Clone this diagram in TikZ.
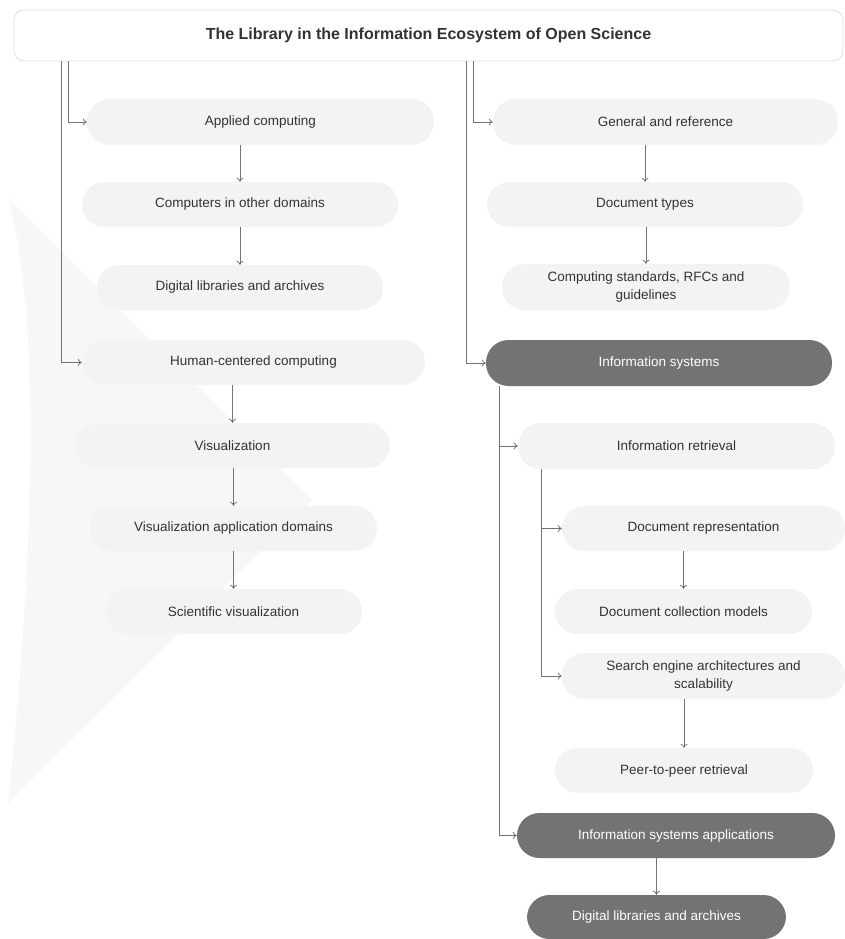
\documentclass[tikz,border=0pt]{standalone}
\usepackage{fontspec}
\setmainfont{Liberation Sans}
\usetikzlibrary{arrows.meta}
\definecolor{boxfill}{HTML}{F3F3F3}
\definecolor{darkfill}{HTML}{737373}
\definecolor{txt}{HTML}{333333}
\definecolor{linec}{HTML}{727272}
\definecolor{wm}{HTML}{F7F7F7}
\definecolor{tborder}{HTML}{E0E0E0}
\begin{document}
\begin{tikzpicture}[x=1pt,y=-1pt,
  lbox/.style={rectangle, rounded corners=22.5pt, fill=boxfill, text=txt,
    font=\fontsize{13.5}{18}\selectfont, align=center, inner sep=0pt},
  dbox/.style={lbox, fill=darkfill, text=white},
  titlebox/.style={rectangle, rounded corners=10pt, fill=white, draw=tborder,
    line width=0.8pt, text=txt, font=\bfseries\fontsize{16}{19}\selectfont, inner sep=0pt},
  conn/.style={draw=linec, line width=0.8pt, -{To[length=4pt,width=7pt]}}
]
\useasboundingbox (0,0) rectangle (845,939);
% watermark
\fill[wm] (8,198) .. controls (45,330) and (30,600) .. (8,803) -- (312,500) -- cycle;

\node[titlebox, minimum width=829pt, minimum height=51pt] (title) at (428.5,35.5) {The Library in the Information Ecosystem of Open Science};

% left column
\node[lbox, minimum width=347pt, minimum height=46pt] (ac) at (260.5,122) {Applied computing};
\node[lbox, minimum width=316pt, minimum height=45pt] (cd) at (240,204.5) {Computers in other domains};
\node[lbox, minimum width=286pt, minimum height=45pt] (dla) at (240,287.5) {Digital libraries and archives};
\node[lbox, minimum width=343pt, minimum height=45pt] (hc) at (253.5,362.5) {Human-centered computing};
\node[lbox, minimum width=315pt, minimum height=45pt] (vis) at (232.5,445.5) {Visualization};
\node[lbox, minimum width=287pt, minimum height=45pt] (vad) at (233.5,528.5) {Visualization application domains};
\node[lbox, minimum width=257pt, minimum height=45pt] (sv) at (233.5,611.5) {Scientific visualization};

% right column
\node[lbox, minimum width=345pt, minimum height=46pt] (gr) at (665.5,122) {General and reference};
\node[lbox, minimum width=316pt, minimum height=45pt] (dt) at (645,204.5) {Document types};
\node[lbox, minimum width=288pt, minimum height=46pt] (cs) at (646,287) {Computing standards, RFCs and\\guidelines};
\node[dbox, minimum width=346pt, minimum height=46pt] (is) at (659,363) {Information systems};
\node[lbox, minimum width=317pt, minimum height=46pt] (ir) at (676.5,446) {Information retrieval};
\node[lbox, minimum width=283pt, minimum height=45pt] (dr) at (703.5,528.5) {Document representation};
\node[lbox, minimum width=257pt, minimum height=45pt] (dc) at (683.5,611.5) {Document collection models};
\node[lbox, minimum width=283pt, minimum height=46pt] (se) at (703.5,676) {Search engine architectures and\\scalability};
\node[lbox, minimum width=258pt, minimum height=45pt] (pp) at (684,770.5) {Peer-to-peer retrieval};
\node[dbox, minimum width=318pt, minimum height=45pt] (isa) at (676,835.5) {Information systems applications};
\node[dbox, minimum width=259pt, minimum height=44pt] (dlb) at (656.5,917) {Digital libraries and archives};

% elbow connectors
\draw[conn] ([xshift=48pt]title.south west) |- (hc.west);
\draw[conn] ([xshift=55pt]title.south west) |- (ac.west);
\draw[conn] ([xshift=453pt]title.south west) |- (is.west);
\draw[conn] ([xshift=460pt]title.south west) |- (gr.west);
\draw[conn] ([xshift=14pt]is.south west) |- (ir.west);
\draw[conn] ([xshift=14pt]is.south west) |- (isa.west);
\draw[conn] ([xshift=24pt]ir.south west) |- (dr.west);
\draw[conn] ([xshift=24pt]ir.south west) |- (se.west);

% vertical connectors
\draw[conn] (ac.south -| cd.north) -- (cd.north);
\draw[conn] (cd.south -| dla.north) -- (dla.north);
\draw[conn] (hc.south -| vis.north) -- (vis.north);
\draw[conn] (vis.south -| vad.north) -- (vad.north);
\draw[conn] (vad.south -| sv.north) -- (sv.north);
\draw[conn] (gr.south -| dt.north) -- (dt.north);
\draw[conn] (dt.south -| cs.north) -- (cs.north);
\draw[conn] (dr.south -| dc.north) -- (dc.north);
\draw[conn] (se.south -| pp.north) -- (pp.north);
\draw[conn] (isa.south -| dlb.north) -- (dlb.north);
\end{tikzpicture}
\end{document}
